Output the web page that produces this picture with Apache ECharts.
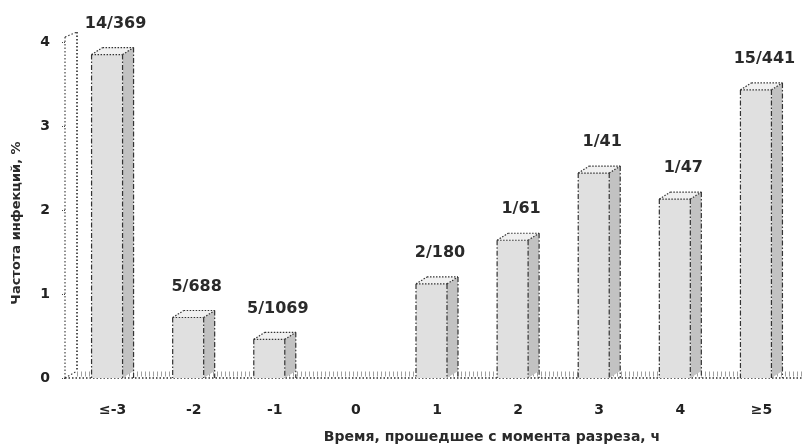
<!DOCTYPE html>
<html>
<head>
<meta charset="utf-8">
<script src="https://cdn.jsdelivr.net/npm/echarts@6/dist/echarts.min.js"></script>
<style>
  html, body { margin: 0; padding: 0; background: #ffffff; }
  #chart { width: 802px; height: 444px; }
</style>
</head>
<body>
<div id="chart"></div>
<script>
// Infection rate by time since incision
const categories = ['≤-3', '-2', '-1', '0', '1', '2', '3', '4', '≥5'];
const infectionRate = [3.85, 0.72, 0.46, 0, 1.12, 1.64, 2.44, 2.13, 3.43];
const caseLabels = ['14/369', '5/688', '5/1069', '', '2/180', '1/61', '1/41', '1/47', '15/441'];
const yTickValues = [0, 1, 2, 3, 4];

const FONT = '"DejaVu Sans", "Liberation Sans", sans-serif';
const EDGE = '#333333';

// pseudo-3D column geometry (pixels)
const FRONT_LEFT = 21, FRONT_RIGHT = 10, DEPTH_X = 11, DEPTH_Y = 7;

function renderColumn(params, api) {
  const idx = api.value(0);
  const v = api.value(1);
  if (!(v > 0)) return null;
  const base = api.coord([idx, 0]);
  const top = api.coord([idx, v]);
  const c = base[0];
  const xl = c - FRONT_LEFT, xr = c + FRONT_RIGHT;
  const yt = top[1], yb = base[1];
  const vert = { stroke: EDGE, lineWidth: 1.2, lineDash: [5, 2, 1.5, 2] };
  const dot = { stroke: EDGE, lineWidth: 1.2, lineDash: [1.5, 1.5] };
  return {
    type: 'group',
    children: [
      { type: 'polygon', shape: { points: [[xr, yt], [xr + DEPTH_X, yt - DEPTH_Y], [xr + DEPTH_X, yb - DEPTH_Y], [xr, yb]] },
        style: { fill: '#c2c2c2' } },
      { type: 'rect', shape: { x: xl, y: yt, width: xr - xl, height: yb - yt },
        style: { fill: '#e0e0e0' } },
      { type: 'polygon', shape: { points: [[xl, yt], [xr, yt], [xr + DEPTH_X, yt - DEPTH_Y], [xl + DEPTH_X, yt - DEPTH_Y]] },
        style: { fill: '#f0f0f0' } },
      { type: 'line', shape: { x1: xl, y1: yt, x2: xl, y2: yb }, style: vert },
      { type: 'line', shape: { x1: xr, y1: yt, x2: xr, y2: yb }, style: vert },
      { type: 'line', shape: { x1: xr + DEPTH_X, y1: yt - DEPTH_Y, x2: xr + DEPTH_X, y2: yb }, style: vert },
      { type: 'line', shape: { x1: xl, y1: yt, x2: xr, y2: yt }, style: dot },
      { type: 'line', shape: { x1: xl, y1: yt, x2: xl + DEPTH_X, y2: yt - DEPTH_Y }, style: dot },
      { type: 'line', shape: { x1: xl + DEPTH_X, y1: yt - DEPTH_Y, x2: xr + DEPTH_X, y2: yt - DEPTH_Y }, style: dot },
      { type: 'line', shape: { x1: xr, y1: yt, x2: xr + DEPTH_X, y2: yt - DEPTH_Y }, style: dot },
      { type: 'text', style: {
          text: caseLabels[params.dataIndex], x: c + 3, y: yt - 31,
          align: 'center', verticalAlign: 'middle',
          font: 'bold 16px ' + FONT, fill: '#2a2a2a' } }
    ]
  };
}

// back wall and floor of the plot box
function renderFrame(params, api) {
  const cs = params.coordSys;
  const y0 = api.coord([0, 0])[1];
  const yTop = api.coord([0, yTickValues[yTickValues.length - 1]])[1];
  const xa = cs.x - 7, xb = cs.x + 5;
  const right = cs.x + cs.width;
  const dot = { stroke: '#333', lineWidth: 1.1, lineDash: [1.5, 2] };
  return {
    type: 'group',
    children: [
      { type: 'line', shape: { x1: xa, y1: yTop - 5, x2: xa, y2: y0 }, style: dot },
      { type: 'line', shape: { x1: xb, y1: yTop - 10, x2: xb, y2: y0 - DEPTH_Y }, style: { stroke: '#1e1e1e', lineWidth: 1.5, lineDash: [1.5, 2] } },
      { type: 'line', shape: { x1: xa, y1: yTop - 5, x2: xb, y2: yTop - 10 }, style: dot },
      { type: 'line', shape: { x1: xa, y1: y0, x2: xb, y2: y0 - DEPTH_Y }, style: dot },
      { type: 'line', shape: { x1: xb, y1: y0 - 4, x2: right, y2: y0 - 4 }, style: { stroke: '#a0a0a0', lineWidth: 5, lineDash: [1, 3] } },
      { type: 'line', shape: { x1: xa, y1: y0, x2: right, y2: y0 }, style: { stroke: '#2e2e2e', lineWidth: 1.3, lineDash: [1.5, 2] } }
    ]
  };
}

const chart = echarts.init(document.getElementById('chart'), null, { renderer: 'canvas' });
chart.setOption({
  animation: false,
  backgroundColor: '#ffffff',
  grid: { left: 72, right: 0, top: 42, bottom: 66, containLabel: false, outerBoundsMode: 'none' },
  xAxis: {
    type: 'category',
    data: categories,
    axisLine: { show: false },
    axisTick: { show: false },
    axisLabel: { margin: 25, fontFamily: FONT, fontSize: 14, fontWeight: 'bold', color: '#222' },
    name: 'Время, прошедшее с момента разреза, ч',
    nameLocation: 'middle',
    nameGap: 52,
    nameTextStyle: { fontFamily: FONT, fontSize: 14, fontWeight: 'bold', color: '#2a2a2a', padding: [0, 0, 0, 110] }
  },
  yAxis: {
    type: 'value',
    min: 0,
    max: 4,
    interval: 1,
    offset: 7,
    axisLine: { show: false },
    axisTick: { show: true, length: 3, lineStyle: { color: '#444', type: 'dotted' } },
    splitLine: { show: false },
    axisLabel: { margin: 15, fontFamily: FONT, fontSize: 14, fontWeight: 'bold', color: '#222' },
    name: 'Частота инфекций, %',
    nameLocation: 'middle',
    nameGap: 42,
    nameTextStyle: { fontFamily: FONT, fontSize: 13, fontWeight: 'bold', color: '#2a2a2a', padding: [0, 26, 0, 0] }
  },
  series: [
    {
      type: 'custom',
      renderItem: renderFrame,
      data: [[0, 0]],
      silent: true,
      z: 1
    },
    {
      type: 'custom',
      renderItem: renderColumn,
      data: infectionRate.map((v, i) => [i, v]),
      encode: { x: 0, y: 1 },
      silent: true,
      z: 2
    }
  ]
});
</script>
</body>
</html>
